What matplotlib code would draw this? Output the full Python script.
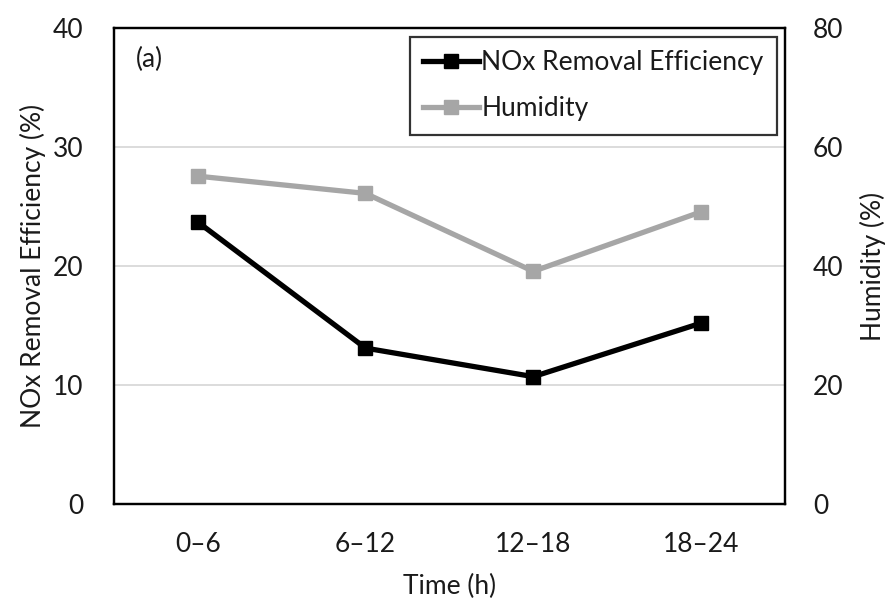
import matplotlib
matplotlib.use("Agg")
import matplotlib.pyplot as plt

plt.rcParams["font.family"] = ["Lato", "DejaVu Sans"]

# data
periods = ["0–6", "6–12", "12–18", "18–24"]
nox_eff = [23.7, 13.1, 10.7, 15.2]     # left axis, %
humidity = [55.1, 52.2, 39.1, 49.1]    # right axis, %

BLACK = "#000000"
GREY = "#a6a6a6"
GRID = "#d9d9d9"
TXT = "#1a1a1a"
FS = 19

fig = plt.figure(figsize=(8.89, 5.99), dpi=100)
ax = fig.add_axes([0.128, 0.1586, 0.755, 0.7947])
ax2 = ax.twinx()

x = list(range(len(periods)))

ax.set_zorder(ax2.get_zorder() + 1)  # black line above grey line
ax.patch.set_visible(False)

l2, = ax2.plot(x, humidity, color=GREY, lw=3.8, marker="s", ms=10,
               solid_joinstyle="miter", label="Humidity")
l1, = ax.plot(x, nox_eff, color=BLACK, lw=3.8, marker="s", ms=10,
              solid_joinstyle="miter", label="NOx Removal Efficiency")

ax.set_xlim(-0.5, 3.5)
ax.set_ylim(0, 40)
ax2.set_ylim(0, 80)
ax.set_yticks([0, 10, 20, 30, 40])
ax2.set_yticks([0, 20, 40, 60, 80])
ax.set_xticks(x)
ax.set_xticklabels(periods)

for y in [10, 20, 30]:
    ax2.axhline(y * 2, color=GRID, lw=1.3, zorder=0)

for a in (ax, ax2):
    for s in a.spines.values():
        s.set_linewidth(1.6)
        s.set_color(BLACK)
    a.tick_params(length=0, labelsize=FS, colors=TXT)
ax.tick_params(axis="y", pad=22)
ax2.tick_params(axis="y", pad=20)
ax.tick_params(axis="x", pad=20)

ax.set_xlabel("Time (h)", fontsize=FS, labelpad=12, color=TXT)
ax.set_ylabel("NOx Removal Efficiency (%)", fontsize=FS, labelpad=5, color=TXT)
ax2.set_ylabel("Humidity (%)", fontsize=FS, labelpad=12, color=TXT)

ax.text(0.033, 0.933, "(a)", transform=ax.transAxes, fontsize=FS,
        va="center", ha="left", color=TXT)

leg = ax.legend([l1, l2], ["NOx Removal Efficiency", "Humidity"],
                loc="upper right", bbox_to_anchor=(0.988, 0.981),
                fontsize=FS, frameon=True, fancybox=False,
                handlelength=2.1, handletextpad=0.1, borderpad=0.5,
                labelspacing=0.8, borderaxespad=0)
leg.get_frame().set_edgecolor(BLACK)
leg.get_frame().set_linewidth(1.6)
for t in leg.get_texts():
    t.set_color(TXT)

fig.savefig("out.png", dpi=100)
